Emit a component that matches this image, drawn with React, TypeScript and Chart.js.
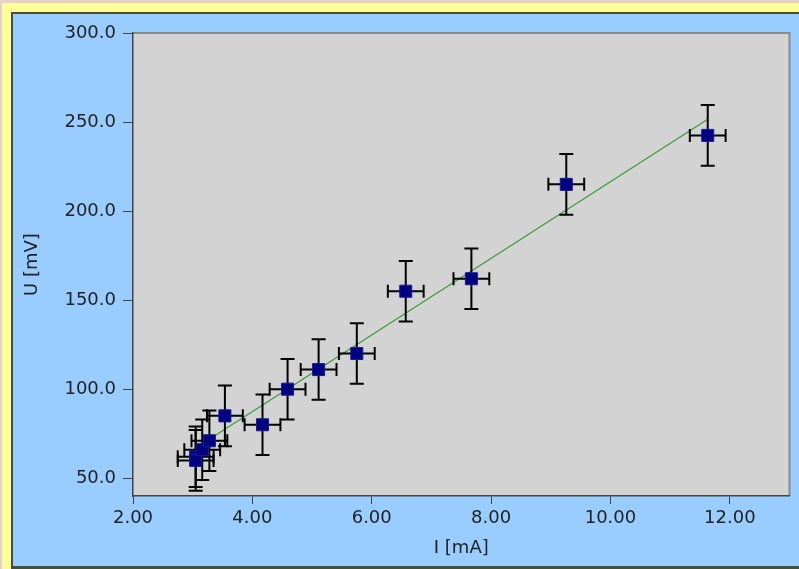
import React, { useEffect, useRef } from "react";
import { Chart, registerables } from "chart.js";

Chart.register(...registerables);

// Measured data (I in mA, U in mV) with symmetric uncertainties
const currentMA = [3.05, 3.05, 3.16, 3.28, 3.54, 4.17, 4.59, 5.11, 5.75, 6.57, 7.67, 9.26, 11.63];
const voltageMV = [62, 60, 66, 71, 85, 80, 100, 111, 120, 155, 162, 215, 242.5];
const currentErr = [0.3, 0.3, 0.3, 0.3, 0.3, 0.3, 0.3, 0.3, 0.3, 0.3, 0.3, 0.3, 0.3];
const voltageErr = [17, 17, 17, 17, 17, 17, 17, 17, 17, 17, 17, 17, 17];

// Linear fit line end points
const fitCurrent = [3.05, 11.63];
const fitVoltage = [67.0, 251.5];

// Axis ticks
const xTicks = [2, 4, 6, 8, 10, 12];
const yTicks = [50, 100, 150, 200, 250, 300];

const FONT = "'DejaVu Sans', sans-serif";

const plotBackground = {
  id: "plotBackground",
  beforeDraw(chart: any) {
    const { ctx, chartArea: a } = chart;
    ctx.save();
    ctx.fillStyle = "#D3D3D3";
    ctx.fillRect(a.left, a.top, a.right - a.left, a.bottom - a.top);
    ctx.strokeStyle = "#8a8a8a";
    ctx.lineWidth = 2;
    ctx.beginPath();
    ctx.moveTo(a.left, a.top);
    ctx.lineTo(a.right, a.top);
    ctx.lineTo(a.right, a.bottom);
    ctx.stroke();
    ctx.restore();
  },
};

const errorBars = {
  id: "errorBars",
  beforeDatasetDraw(chart: any, args: any) {
    if (args.index !== 0) return;
    const { ctx } = chart;
    const xs = chart.scales.x;
    const ys = chart.scales.y;
    const cap = 7;
    ctx.save();
    ctx.strokeStyle = "#000";
    ctx.lineWidth = 2;
    for (let i = 0; i < currentMA.length; i++) {
      const cx = xs.getPixelForValue(currentMA[i]);
      const cy = ys.getPixelForValue(voltageMV[i]);
      const x0 = xs.getPixelForValue(currentMA[i] - currentErr[i]);
      const x1 = xs.getPixelForValue(currentMA[i] + currentErr[i]);
      const y0 = ys.getPixelForValue(voltageMV[i] - voltageErr[i]);
      const y1 = ys.getPixelForValue(voltageMV[i] + voltageErr[i]);
      ctx.beginPath();
      ctx.moveTo(x0, cy);
      ctx.lineTo(x1, cy);
      ctx.moveTo(x0, cy - cap + 0.5);
      ctx.lineTo(x0, cy + cap - 0.5);
      ctx.moveTo(x1, cy - cap + 0.5);
      ctx.lineTo(x1, cy + cap - 0.5);
      ctx.moveTo(cx, y0);
      ctx.lineTo(cx, y1);
      ctx.moveTo(cx - cap, y0);
      ctx.lineTo(cx + cap, y0);
      ctx.moveTo(cx - cap, y1);
      ctx.lineTo(cx + cap, y1);
      ctx.stroke();
    }
    ctx.restore();
  },
};

export default function App() {
  const ref = useRef<HTMLCanvasElement | null>(null);

  useEffect(() => {
    if (!ref.current) return;
    const chart = new Chart(ref.current, {
      type: "scatter",
      data: {
        datasets: [
          {
            label: "U(I)",
            data: currentMA.map((v, i) => ({ x: v, y: voltageMV[i] })),
            pointStyle: "rect",
            pointRadius: 8.5,
            backgroundColor: "#000080",
            borderColor: "#1a1a90",
            borderWidth: 1,
            order: 0,
          },
          {
            type: "line",
            label: "fit",
            data: fitCurrent.map((v, i) => ({ x: v, y: fitVoltage[i] })),
            borderColor: "#3a9a3a",
            borderWidth: 1.2,
            pointRadius: 0,
            fill: false,
            order: 1,
          } as any,
        ],
      },
      options: {
        animation: false,
        responsive: false,
        devicePixelRatio: 1,
        layout: { padding: { top: 19, right: 8, left: 0, bottom: 0 } },
        plugins: {
          legend: { display: false },
          tooltip: { enabled: false },
        },
        scales: {
          x: {
            type: "linear",
            min: 2,
            max: 13,
            afterBuildTicks: (s: any) => {
              s.ticks = xTicks.map((v) => ({ value: v }));
            },
            afterFit: (s: any) => {
              s.height = 70;
            },
            ticks: {
              callback: (v: any) => Number(v).toFixed(2),
              font: { family: FONT, size: 18 },
              color: "#222",
              padding: 4,
              maxRotation: 0,
            },
            grid: {
              drawOnChartArea: false,
              drawTicks: true,
              tickLength: 8,
              color: "#444",
            },
            border: { display: true, color: "#444", width: 1.5 },
            title: {
              display: true,
              text: "I [mA]",
              font: { family: FONT, size: 18 },
              color: "#222",
              padding: { top: 0, bottom: 7 },
            },
          },
          y: {
            type: "linear",
            min: 40,
            max: 300,
            afterBuildTicks: (s: any) => {
              s.ticks = yTicks.map((v) => ({ value: v }));
            },
            afterFit: (s: any) => {
              s.width = 120;
            },
            ticks: {
              callback: (v: any) => Number(v).toFixed(1),
              font: { family: FONT, size: 18 },
              color: "#222",
              padding: 7,
            },
            grid: {
              drawOnChartArea: false,
              drawTicks: true,
              tickLength: 10,
              color: "#444",
            },
            border: { display: true, color: "#444", width: 1.5 },
            title: {
              display: true,
              text: "U [mV]",
              font: { family: FONT, size: 18 },
              color: "#222",
              padding: { top: 9, bottom: 0 },
            },
          },
        },
      },
      plugins: [plotBackground, errorBars],
    });
    return () => chart.destroy();
  }, []);

  return (
    <div style={{ position: "absolute", left: 0, top: 0, width: 799, height: 569, background: "#E6D0C8", overflow: "hidden" }}>
      <div style={{ position: "absolute", left: 2, top: 3, width: 797, height: 566, background: "#FFFF99" }} />
      <div
        style={{
          position: "absolute",
          left: 11,
          top: 12,
          width: 788,
          height: 557,
          boxSizing: "border-box",
          background: "#99CCFF",
          borderLeft: "2px solid #4a4d3c",
          borderTop: "2px solid #4a4d3c",
          borderBottom: "3px solid #4a4d3c",
        }}
      />
      <canvas ref={ref} width={786} height={552} style={{ position: "absolute", left: 13, top: 14, width: 786, height: 552 }} />
    </div>
  );
}
